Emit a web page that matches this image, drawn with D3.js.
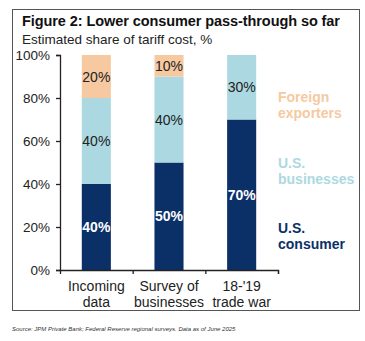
<!DOCTYPE html>
<html>
<head>
<meta charset="utf-8">
<script src="https://cdn.jsdelivr.net/npm/d3@7"></script>
<style>
  body { margin: 0; background: #fff; }
  text { font-family: "Liberation Sans", Arial, sans-serif; }
</style>
</head>
<body>
<svg width="365" height="341"></svg>
<script>
// estimated share of tariff cost, %
var categories = [["Incoming", "data"], ["Survey of", "businesses"], ["18-'19", "trade war"]];
var consumer = [40, 50, 70];
var businesses = [40, 40, 30];
var foreign = [20, 10, 0];
var yTicks = [0, 20, 40, 60, 80, 100];
var seriesNames = [["U.S.", "consumer"], ["U.S.", "businesses"], ["Foreign", "exporters"]];

var colors = ["#0b3068", "#acd9e1", "#f6c9a0"],
    labelColors = ["#fff", "#222", "#222"];

var svg = d3.select("svg"),
    margin = {top: 55, right: 87, bottom: 71, left: 60},
    width = +svg.attr("width") - margin.left - margin.right,
    height = +svg.attr("height") - margin.top - margin.bottom;

// outer frame
svg.append("rect")
    .attr("x", 12.5).attr("y", 9.5)
    .attr("width", 347).attr("height", 301)
    .attr("fill", "none")
    .attr("stroke", "#555")
    .attr("stroke-width", 1);

svg.append("text")
    .attr("x", 22).attr("y", 26)
    .attr("font-size", 14.5)
    .attr("font-weight", "bold")
    .attr("fill", "#111")
    .attr("textLength", 318)
    .text("Figure 2: Lower consumer pass-through so far");

svg.append("text")
    .attr("x", 22).attr("y", 44)
    .attr("font-size", 13.5)
    .attr("fill", "#222")
    .text("Estimated share of tariff cost, %");

svg.append("text")
    .attr("x", 12).attr("y", 331)
    .attr("font-size", 6)
    .attr("font-style", "italic")
    .attr("fill", "#333")
    .text("Source: JPM Private Bank; Federal Reserve regional surveys. Data as of June 2025");

var g = svg.append("g").attr("transform", "translate(" + margin.left + "," + margin.top + ")");

var data = categories.map(function(c, i) {
  return {key: i, consumer: consumer[i], businesses: businesses[i], foreign: foreign[i]};
});
var stack = d3.stack().keys(["consumer", "businesses", "foreign"])(data);

var x = d3.scaleBand()
    .domain(d3.range(categories.length))
    .range([0, width])
    .paddingInner(0.6)
    .paddingOuter(0.3);

var y = d3.scaleLinear()
    .domain([0, 100])
    .range([height, 0]);

// y axis
var yAxis = g.append("g")
    .call(d3.axisLeft(y).tickValues(yTicks).tickSize(4).tickFormat(function(d) { return d + "%"; }));
yAxis.select(".domain").attr("stroke", "#222").attr("stroke-width", 1.3);
yAxis.selectAll(".tick line").attr("stroke", "#222").attr("stroke-width", 1.3);
yAxis.selectAll(".tick text")
    .attr("x", -10)
    .attr("font-size", 13.5)
    .attr("fill", "#222")
    .style("font-family", "'Liberation Sans', Arial, sans-serif");

// segments
var layer = g.selectAll(".layer")
    .data(stack)
  .enter().append("g")
    .attr("fill", function(d, i) { return colors[i]; });

layer.selectAll("rect")
    .data(function(d) { return d; })
  .enter().append("rect")
    .filter(function(d) { return d[1] > d[0]; })
    .attr("x", function(d) { return x(d.data.key); })
    .attr("y", function(d) { return y(d[1]); })
    .attr("width", x.bandwidth())
    .attr("height", function(d) { return y(d[0]) - y(d[1]); });

stack.forEach(function(s, si) {
  g.selectAll(".lbl" + si)
      .data(s.filter(function(d) { return d[1] > d[0]; }))
    .enter().append("text")
      .attr("x", function(d) { return x(d.data.key) + x.bandwidth() / 2; })
      .attr("y", function(d) { return y((d[0] + d[1]) / 2); })
      .attr("dy", "0.36em")
      .attr("text-anchor", "middle")
      .attr("font-size", 14)
      .attr("font-weight", si === 0 ? "bold" : "normal")
      .attr("fill", labelColors[si])
      .text(function(d) { return (d[1] - d[0]) + "%"; });
});

// x axis, ticks between the categories
var xEdge = d3.scaleLinear().domain([0, categories.length]).range([0, width]);
var xAxis = g.append("g")
    .attr("transform", "translate(0," + height + ")")
    .call(d3.axisBottom(xEdge).ticks(3).tickSize(4).tickFormat(""));
xAxis.select(".domain").attr("stroke", "#222").attr("stroke-width", 1.3);
xAxis.selectAll(".tick line").attr("stroke", "#222").attr("stroke-width", 1.3);
xAxis.selectAll(".tick").filter(function(d) { return d === 0; }).remove();

categories.forEach(function(c, i) {
  var t = g.append("text")
      .attr("x", x(i) + x.bandwidth() / 2)
      .attr("y", height + 21)
      .attr("text-anchor", "middle")
      .attr("font-size", 14)
      .attr("fill", "#222");
  c.forEach(function(line, j) {
    t.append("tspan")
        .attr("x", x(i) + x.bandwidth() / 2)
        .attr("dy", j === 0 ? 0 : 15.5)
        .text(line);
  });
});

// series labels on the right
var legendY = [228, 163, 97];
seriesNames.forEach(function(words, si) {
  var t = svg.append("text")
      .attr("x", 278)
      .attr("y", legendY[si] + 5)
      .attr("font-size", 14)
      .attr("font-weight", "bold")
      .attr("fill", colors[si]);
  words.forEach(function(w, j) {
    t.append("tspan").attr("x", 278).attr("dy", j === 0 ? 0 : 15.5).text(w);
  });
});
</script>
</body>
</html>
